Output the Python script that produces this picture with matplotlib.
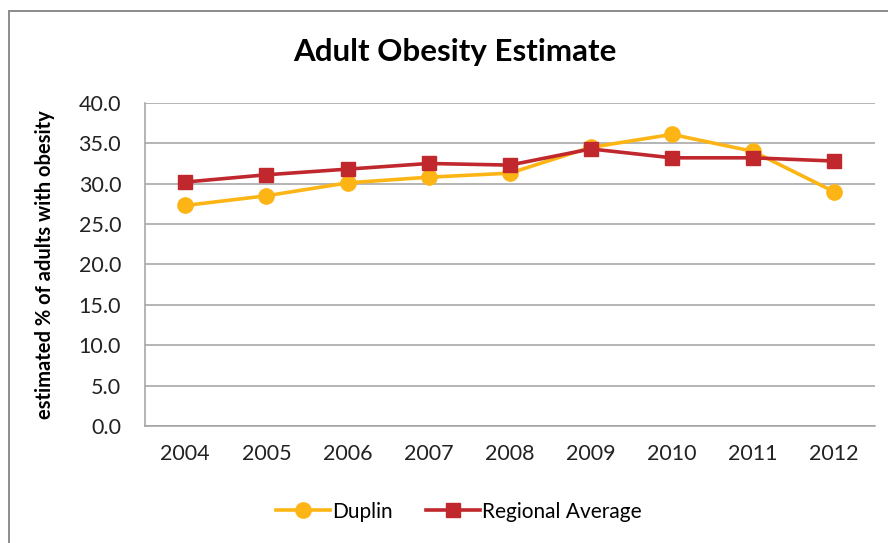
import matplotlib
matplotlib.use("Agg")
import matplotlib.pyplot as plt
from matplotlib.patches import Rectangle

years = ["2004", "2005", "2006", "2007", "2008", "2009", "2010", "2011", "2012"]
duplin = [27.3, 28.5, 30.1, 30.8, 31.3, 34.5, 36.1, 34.0, 29.0]
regional = [30.2, 31.1, 31.8, 32.5, 32.3, 34.3, 33.2, 33.2, 32.8]
yticks = [0, 5, 10, 15, 20, 25, 30, 35, 40]

plt.rcParams['font.family'] = ['Lato', 'DejaVu Sans']

fig = plt.figure(figsize=(8.88, 5.43), dpi=100)
ax = fig.add_axes([0.163, 0.2155, 0.822, 0.595])

x = range(len(years))
ax.plot(x, duplin, color="#FDB515", lw=2.6, marker="o", ms=11, label="Duplin", zorder=3)
ax.plot(x, regional, color="#C0282D", lw=2.6, marker="s", ms=10, label="Regional Average", zorder=4)

ax.set_xlim(-0.5, len(years) - 0.5)
ax.set_ylim(0, 40)
ax.set_yticks(yticks)
ax.set_yticklabels([f"{v:.1f}" for v in yticks], fontsize=15.5, color="#222222")
ax.set_xticks(list(x))
ax.set_xticklabels(years, fontsize=15.5, color="#222222")
ax.tick_params(length=0, pad=13)
ax.tick_params(axis="y", pad=17)
ax.grid(axis="y", color="#A0A0A0", lw=1.1)
ax.set_axisbelow(True)
for s in ["top", "right"]:
    ax.spines[s].set_visible(False)
for s in ["left", "bottom"]:
    ax.spines[s].set_color("#A0A0A0")
    ax.spines[s].set_linewidth(1.1)

ax.set_ylabel("estimated % of adults with obesity", fontsize=14.5, fontweight="bold", labelpad=17)
fig.text(0.512, 0.905, "Adult Obesity Estimate", ha="center", va="center",
         fontsize=22.5, fontweight="bold")

ax.legend(loc="center", bbox_to_anchor=(0.43, -0.265), ncol=2, frameon=False,
          fontsize=15, handlelength=2.6, handletextpad=0.1, columnspacing=1.6)

fig.patches.append(Rectangle((9 / 888, -0.05), 1.0, 1 - 11 / 543 + 0.05, transform=fig.transFigure,
                             fill=False, edgecolor="#8C8C8C", lw=1.4))

fig.savefig("out.png", dpi=100)
